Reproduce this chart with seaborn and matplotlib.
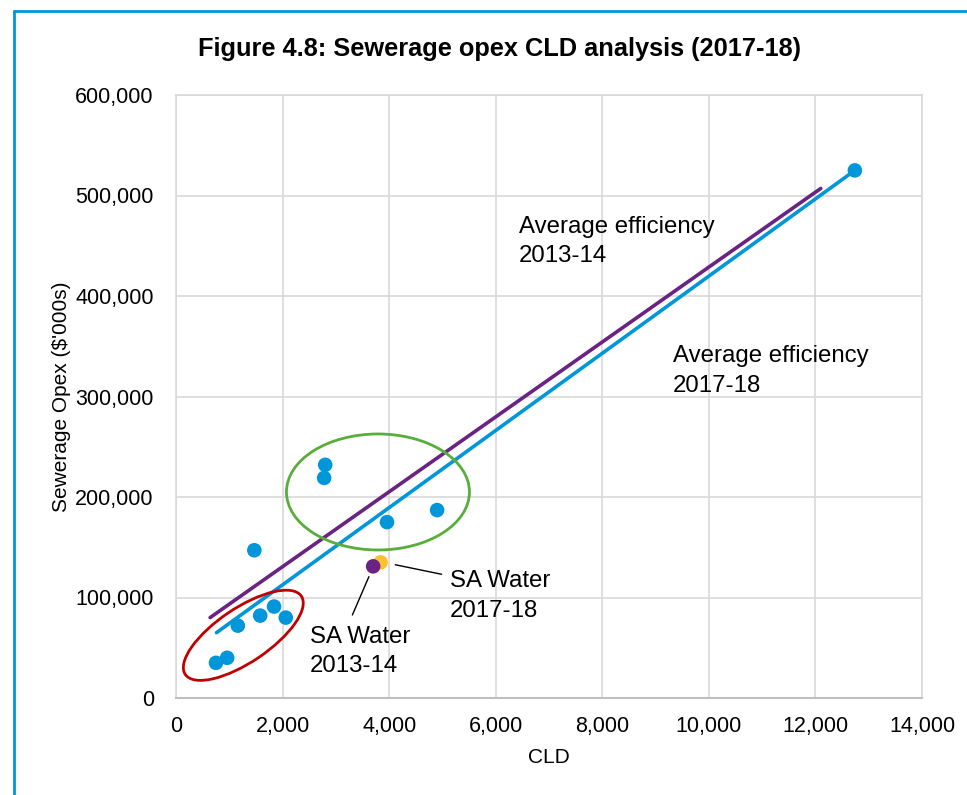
import numpy as np
import pandas as pd
import matplotlib
matplotlib.use("Agg")
import matplotlib.pyplot as plt
from matplotlib.patches import Ellipse
from matplotlib.transforms import ScaledTranslation
from matplotlib.lines import Line2D
import seaborn as sns

# Utility points (CLD vs sewerage opex, $'000s)
cld = [750, 960, 1160, 1580, 1840, 2060, 1470, 2800, 2780, 3960, 4900, 12740]
opex = [35000, 40000, 72000, 82000, 91000, 80000, 147000, 232000, 219000, 175000, 187000, 525000]

# SA Water points
sa_cld_1718, sa_opex_1718 = 3840, 135000
sa_cld_1314, sa_opex_1314 = 3700, 131000

# Average efficiency lines (end points)
eff_1718_x = [760, 12740]
eff_1718_y = [65000, 525000]
eff_1314_x = [640, 12100]
eff_1314_y = [80000, 507000]

x_ticks = np.arange(0, 14001, 2000)
y_ticks = np.arange(0, 600001, 100000)

BLUE = "#0096DA"
PURPLE = "#6A2382"
YELLOW = "#FDC12E"
RED = "#C00000"
GREEN = "#57AE3A"

sns.set_style("white")
plt.rcParams["font.family"] = ["Liberation Sans", "DejaVu Sans"]
plt.rcParams["text.color"] = "black"
plt.rcParams["axes.labelcolor"] = "black"

fig = plt.figure(figsize=(9.67, 7.95), dpi=100)
ax = fig.add_axes([176 / 967, 1 - 698 / 795, (922 - 176) / 967, (698 - 95) / 795])

lines = pd.DataFrame({
    "x": eff_1718_x + eff_1314_x,
    "y": eff_1718_y + eff_1314_y,
    "period": ["2017-18"] * 2 + ["2013-14"] * 2,
})
sns.lineplot(data=lines, x="x", y="y", hue="period",
             palette={"2017-18": BLUE, "2013-14": PURPLE},
             linewidth=2.6, legend=False, ax=ax, zorder=3)

pts = pd.DataFrame({"cld": cld, "opex": opex})
sns.scatterplot(data=pts, x="cld", y="opex", color=BLUE, s=110,
                edgecolor="none", ax=ax, zorder=4)
sns.scatterplot(x=[sa_cld_1718], y=[sa_opex_1718], color=YELLOW, s=110,
                edgecolor="none", ax=ax, zorder=4)
sns.scatterplot(x=[sa_cld_1314], y=[sa_opex_1314], color=PURPLE, s=110,
                edgecolor="none", ax=ax, zorder=5)

# circled groups (size in inches so the ellipse keeps its shape)
def ring(cx, cy, w, h, angle, color):
    tr = fig.dpi_scale_trans + ScaledTranslation(cx, cy, ax.transData)
    ax.add_patch(Ellipse((0, 0), w, h, angle=angle, fill=False,
                         edgecolor=color, linewidth=2, transform=tr, zorder=6))

ring(1263, 62400, 1.40, 0.54, 34, RED)
ring(3790, 205000, 1.83, 1.16, 0, GREEN)

# labels and leader lines
note = dict(fontsize=17.3, va="top", ha="left", linespacing=1.45)
ax.text(6440, 480000, "Average efficiency\n2013-14", **note)
ax.text(9320, 351000, "Average efficiency\n2017-18", **note)
ax.text(5140, 127000, "SA Water\n2017-18", **note)
ax.text(2510, 72000, "SA Water\n2013-14", **note)
ax.plot([4115, 4985], [132600, 123100], color="black", linewidth=1, zorder=7)
ax.plot([3620, 3310], [120700, 82600], color="black", linewidth=1, zorder=7)

ax.set_xlim(0, 14000)
ax.set_ylim(0, 600000)
ax.set_xticks(x_ticks)
ax.set_yticks(y_ticks)
ax.set_xticklabels([f"{v:,}" for v in x_ticks])
ax.set_yticklabels([f"{v:,}" for v in y_ticks])
ax.tick_params(axis="both", length=0, labelsize=15.5, colors="black")
ax.tick_params(axis="y", pad=16)
ax.tick_params(axis="x", pad=13)
ax.grid(True, color="#D9D9D9", linewidth=1.2)
ax.set_axisbelow(True)
for side in ["top", "right", "left"]:
    ax.spines[side].set_color("#D9D9D9")
    ax.spines[side].set_linewidth(1.2)
ax.spines["bottom"].set_color("#BFBFBF")
ax.spines["bottom"].set_linewidth(1.5)

ax.set_xlabel("CLD", fontsize=15, labelpad=8)
ax.set_ylabel("Sewerage Opex ($'000s)", fontsize=15, labelpad=3)

fig.text(500 / 967, 1 - 49 / 795, "Figure 4.8: Sewerage opex CLD analysis (2017-18)",
         fontsize=18.3, fontweight="bold", ha="center", va="center")

# blue frame around the figure (left and top edges visible)
fx, fy = 13.5 / 967, 1 - 11 / 795
fig.add_artist(Line2D([fx, fx], [0, fy], color=BLUE, linewidth=2, transform=fig.transFigure))
fig.add_artist(Line2D([fx, 1], [fy, fy], color=BLUE, linewidth=2, transform=fig.transFigure))

fig.savefig("out.png", dpi=100)
